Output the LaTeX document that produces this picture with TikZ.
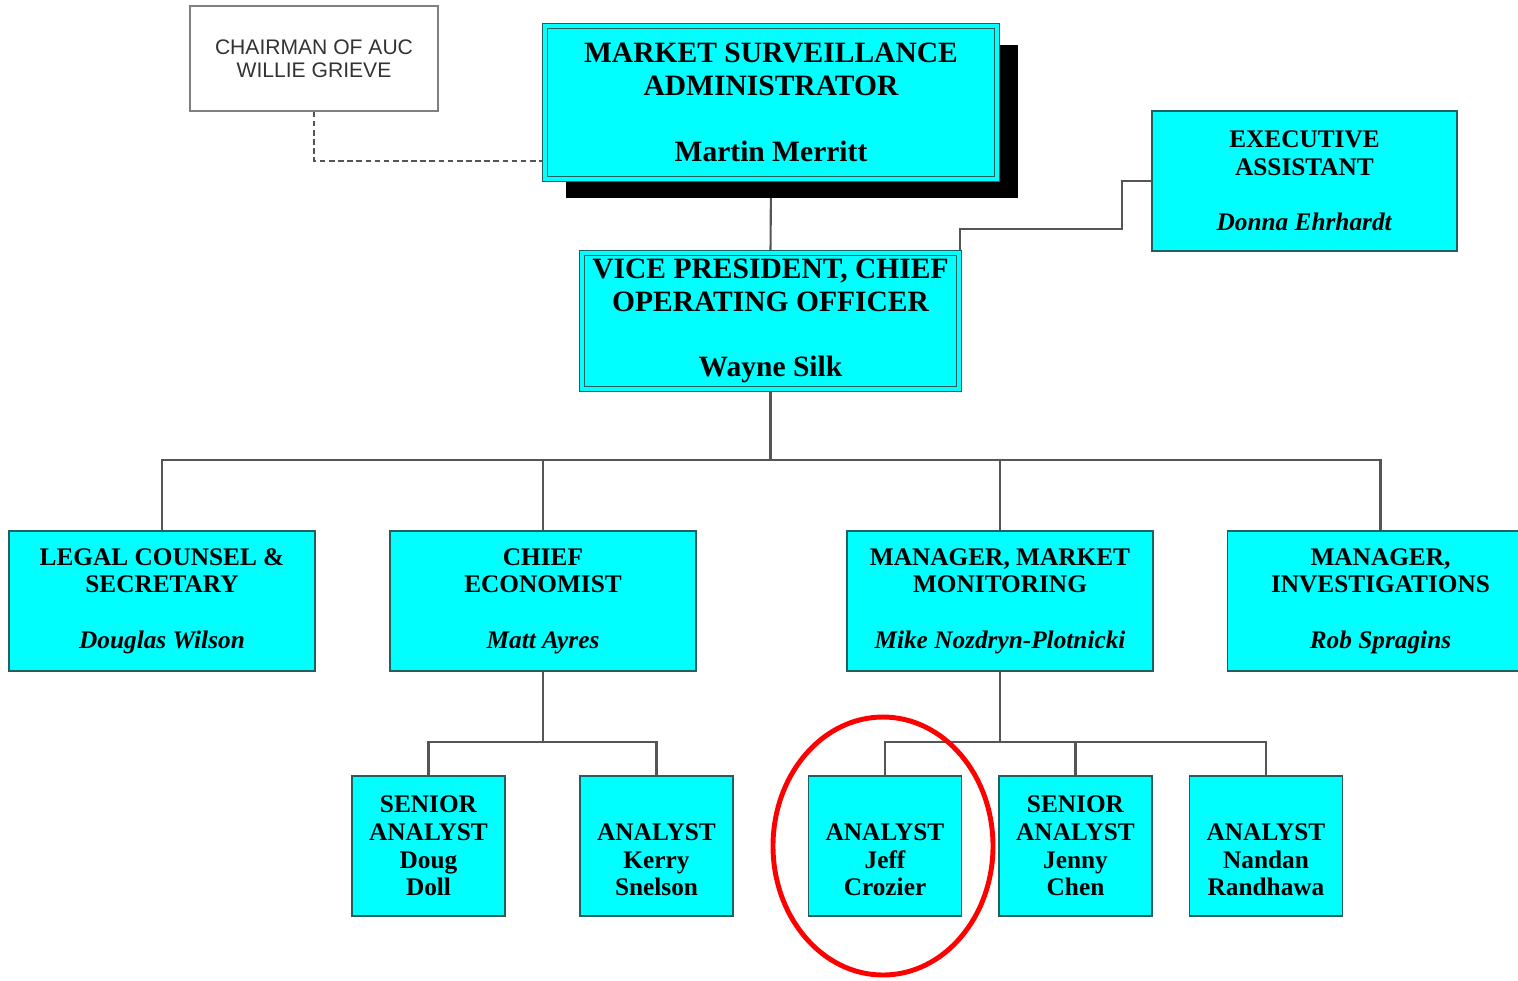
\documentclass[tikz,border=0pt]{standalone}
\usepackage{fontspec}
\setmainfont{Liberation Serif}
\newfontfamily\chairfont{Liberation Sans}
\usetikzlibrary{shadows,backgrounds,shapes.geometric}

\definecolor{boxfill}{RGB}{0,255,255}
\definecolor{boxline}{RGB}{35,95,95}
\definecolor{linkgray}{RGB}{85,85,85}

\newcommand{\bigunitfont}{\fontsize{8.4}{9.35}\selectfont\bfseries}
\newcommand{\unitfont}{\fontsize{7.2}{7.9}\selectfont\bfseries}

\tikzset{
  unit/.style={draw=boxline, fill=boxfill, inner sep=0pt, align=center,
    font=\unitfont, minimum width=3.06cm, minimum height=1.40cm},
  smallunit/.style={unit, minimum width=1.53cm},
  bigunit/.style={unit, double=boxfill, double distance=0.9pt,
    font=\bigunitfont},
  link/.style={draw=linkgray, line width=0.6pt},
}

\begin{document}
\begin{tikzpicture}
    \useasboundingbox (0,0) rectangle (15.18,-9.80);

    % Top of the chart
    \node[draw=gray, fill=white, inner sep=0pt, align=center, text=black!80,
      font=\chairfont\fontsize{6}{6.5}\selectfont,
      minimum width=2.48cm, minimum height=1.05cm] (chair) at (3.14,-0.585)
      {CHAIRMAN OF AUC\\WILLIE GRIEVE};
    \node[bigunit, minimum width=4.52cm, minimum height=1.53cm,
      drop shadow={shadow xshift=0.21cm, shadow yshift=-0.19cm, fill=black, opacity=1}]
      (msa) at (7.71,-1.025)
      {MARKET SURVEILLANCE\\ADMINISTRATOR\\[9.35pt]Martin Merritt};
    \node[bigunit, minimum width=3.77cm, minimum height=1.36cm] (vp) at (7.705,-3.21)
      {VICE PRESIDENT, CHIEF\\OPERATING OFFICER\\[9.35pt]Wayne Silk};
    \node[unit, minimum width=3.05cm] (exec) at (13.045,-1.81)
      {EXECUTIVE\\ASSISTANT\\[7.9pt]\textit{Donna Ehrhardt}};

    % Managers
    \node[unit] (legal) at (1.62,-6.01)
      {LEGAL COUNSEL \&\\SECRETARY\\[7.9pt]\textit{Douglas Wilson}};
    \node[unit] (econ) at (5.43,-6.01)
      {CHIEF\\ECONOMIST\\[7.9pt]\textit{Matt Ayres}};
    \node[unit] (mgrmm) at (10.0,-6.01)
      {MANAGER, MARKET\\MONITORING\\[7.9pt]\textit{Mike Nozdryn-Plotnicki}};
    \node[unit] (mgrinv) at (13.805,-6.01)
      {MANAGER,\\INVESTIGATIONS\\[7.9pt]\textit{Rob Spragins}};

    % Analysts
    \node[smallunit] (doug) at (4.285,-8.46) {SENIOR\\ANALYST\\Doug\\Doll};
    \node[smallunit] (kerry) at (6.565,-8.46) {\vphantom{A}\\ANALYST\\Kerry\\Snelson};
    \node[smallunit] (jeff) at (8.85,-8.46) {\vphantom{A}\\ANALYST\\Jeff\\Crozier};
    \node[smallunit] (jenny) at (10.755,-8.46) {SENIOR\\ANALYST\\Jenny\\Chen};
    \node[smallunit] (nandan) at (12.66,-8.46) {\vphantom{A}\\ANALYST\\Nandan\\Randhawa};

    % Connectors
    \begin{scope}[on background layer]
    \draw[link] (msa.south) -- (vp.north);
    \draw[link, dash pattern=on 1.6pt off 1pt] (chair.south) |- ([yshift=0.19cm]msa.south west);
    \draw[link] (vp.north east) -- ++(0,0.23) -| ([xshift=-0.29cm]exec.west) -- (exec.west);

    \draw[link] (vp.south) -- ++(0,-0.70) coordinate (bus);
    \foreach \n in {legal,econ,mgrmm,mgrinv} {
        \draw[link] (bus) -| (\n.north);
    }

    \draw[link] (econ.south) -- ++(0,-0.70) coordinate (econbus);
    \foreach \n in {doug,kerry} {
        \draw[link] (econbus) -| (\n.north);
    }

    \draw[link] (mgrmm.south) -- ++(0,-0.70) coordinate (mmbus);
    \foreach \n in {jeff,jenny,nandan} {
        \draw[link] (mmbus) -| (\n.north);
    }
    \end{scope}

    % Highlight
    \node[draw=red, ellipse, line width=1.4pt, minimum width=2.2cm,
      minimum height=2.58cm] (ring) at ([xshift=-0.02cm]jeff) {};
\end{tikzpicture}
\end{document}
